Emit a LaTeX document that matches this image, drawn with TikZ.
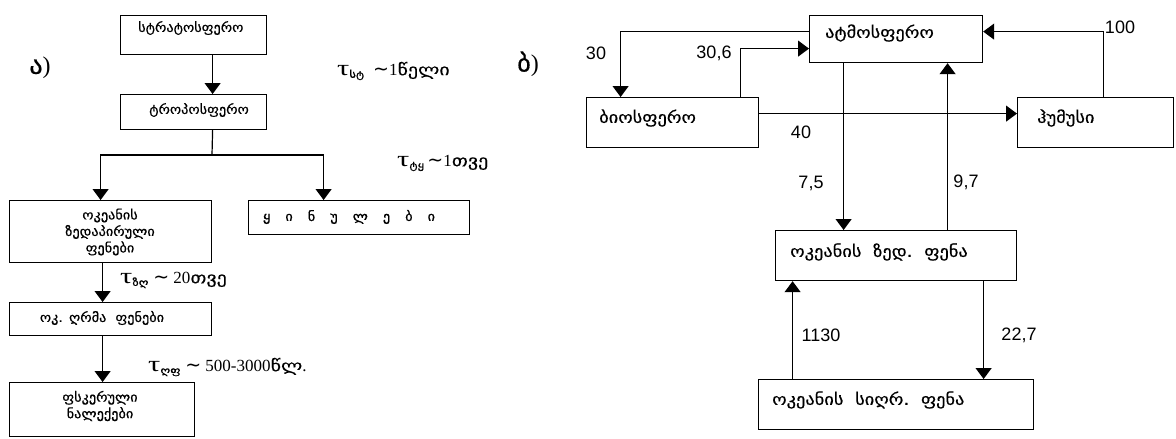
\documentclass[tikz,border=0pt]{standalone}
\usepackage{fontspec}
\setmainfont{Liberation Serif}
\newfontfamily\geo[FakeStretch=1.1,FakeBold=0.6]{DejaVu Sans}
\newfontfamily\geow[FakeStretch=1.15,FakeBold=0.5]{DejaVu Sans}
\newfontfamily\geot[FakeStretch=1.25,FakeBold=0.25]{DejaVu Sans}
\newfontfamily\dvs{DejaVu Sans}
\newfontfamily\arialf{Liberation Sans}
\usetikzlibrary{arrows.meta}
\begin{document}
\begin{tikzpicture}[x=1pt,y=-1pt,
  box/.style={draw,line width=1.2pt,rectangle,inner sep=0pt,anchor=north west},
  gl/.style={font=\geo\fontsize{13}{16.5}\selectfont, inner sep=0pt, align=center},
  gr/.style={font=\geow\fontsize{16}{18}\selectfont, inner sep=0pt, anchor=west},
  num/.style={font=\arialf\fontsize{18}{20}\selectfont, inner sep=0pt},
  tau/.style={font=\fontsize{17}{18}\selectfont, inner sep=0pt, anchor=west},
  big/.style={font=\fontsize{24}{26}\selectfont, inner sep=0pt},
  arr/.style={line width=1.2pt,-{Triangle[length=11pt,width=16pt]}},
  ln/.style={line width=1.2pt}]
\useasboundingbox (0,0) rectangle (1176,439);
\fill[white] (0,0) rectangle (1176,439);
\newcommand\tauch{\scalebox{1.45}[1.05]{\fontsize{21}{21}\selectfont τ}}
\newcommand\gsub[1]{\textsubscript{\geot\fontsize{10}{10}\selectfont #1}}
\newcommand\gword[1]{{\geot\fontsize{16}{16}\selectfont #1}}
\newcommand\tild{{\dvs\fontsize{19}{19}\selectfont ∼}}

% ---------- left diagram ----------
\node[big] (la) at (40,68) {{\geo ა})};
\node[box,minimum width=146pt,minimum height=39pt] (strat) at (120,15) {};
\node[gl,anchor=west] (tstrat) at (138,28) {სტრატოსფერო};
\node[box,minimum width=146pt,minimum height=35pt] (trop) at (120,94) {};
\node[gl,anchor=west] (ttrop) at (149,110) {ტროპოსფერო};
\node[box,minimum width=202pt,minimum height=62pt] (surf) at (9,200) {};
\node[gl] (tsurf) at (110,232) {ოკეანის\\ზედაპირული\\ფენები};
\node[box,minimum width=221pt,minimum height=34pt] (ice) at (248,200) {};
\node[gl] (tice) at (349,217) {ყ\hspace{15pt}ი\hspace{15pt}ნ\hspace{15pt}უ\hspace{15pt}ლ\hspace{15pt}ე\hspace{15pt}ბ\hspace{15pt}ი};
\node[box,minimum width=202pt,minimum height=33pt] (deep) at (9,302) {};
\node[gl] (tdeep) at (102,318) {ოკ. ღრმა\ \ ფენები};
\node[box,minimum width=185pt,minimum height=54pt] (bott) at (9,382) {};
\node[gl] (tbott) at (100,406) {ფსკერული\\ნალექები};

\draw[arr] ([xshift=19pt]strat.south) -- ([xshift=19pt]trop.north);
\coordinate (split) at (212,155);
\draw[ln] ([xshift=19pt]trop.south) -- (split);
\draw[arr] (split) -| ([xshift=-10pt]surf.north);
\draw[arr] (split) -| ([xshift=-35.5pt]ice.north);
\draw[arr] ([xshift=-8pt]surf.south) -- ([xshift=-8pt]deep.north);
\draw[arr] ([xshift=-8pt]deep.south) -- ([xshift=0.5pt]bott.north);

\node[tau] (tau1) at (337,71) {\tauch\gsub{სტ}\ \ \tild1\gword{წელი}};
\node[tau] (tau2) at (397,163) {\tauch\gsub{ტყ}\,\tild1\gword{თვე}};
\node[tau] (tau3) at (120,280) {\tauch\gsub{ზღ} \tild{} 20\gword{თვე}};
\node[tau] (tau4) at (148,367) {\tauch\gsub{ღფ} \tild{} 500-3000\gword{წლ}.};

% ---------- right diagram ----------
\node[big] (lb) at (528,64) {{\geo ბ})};
\node[box,minimum width=173pt,minimum height=47pt] (atm) at (809,15) {};
\node[gr] (tatm) at (825,33) {ატმოსფერო};
\node[box,minimum width=172pt,minimum height=50pt] (bio) at (586,97) {};
\node[gr] (tbio) at (599,118) {ბიოსფერო};
\node[box,minimum width=156pt,minimum height=50pt] (hum) at (1017,97) {};
\node[gr] (thum) at (1037,118) {ჰუმუსი};
\node[box,minimum width=241pt,minimum height=50pt] (osurf) at (775,230) {};
\node[gr] (tosurf) at (790,252) {ოკეანის\ \ ზედ.\ \ ფენა};
\node[box,minimum width=275pt,minimum height=50pt] (odeep) at (758,379) {};
\node[gr] (todeep) at (772,400) {ოკეანის\ \ სიღრ.\ \ ფენა};

\draw[arr] ([yshift=7.5pt]atm.west) -| ([xshift=-52pt]bio.north);
\draw[arr] ([xshift=68pt]bio.north) |- ([yshift=-9.5pt]atm.west);
\draw[arr] ([yshift=9pt]bio.east) -- ([yshift=9pt]hum.west);
\draw[arr] ([xshift=8pt]hum.north) |- ([yshift=7.5pt]atm.east);
\draw[arr] ([xshift=-52.5pt]atm.south) -- ([xshift=-52.5pt]osurf.north);
\draw[arr] ([xshift=51.5pt]osurf.north) -- ([xshift=51.5pt]atm.south);
\draw[arr] ([xshift=-103.5pt]odeep.north) -- ([xshift=-103.5pt]osurf.south);
\draw[arr] ([xshift=87.5pt]osurf.south) -- ([xshift=87.5pt]odeep.north);

\node[num] (n30) at (596,53) {30};
\node[num] (n306) at (714,53) {30,6};
\node[num] (n40) at (801,132) {40};
\node[num] (n100) at (1120,27) {100};
\node[num] (n75) at (811,183) {7,5};
\node[num] (n97) at (966,182) {9,7};
\node[num] (n1130) at (821,335) {1130};
\node[num] (n227) at (1019,335) {22,7};
\end{tikzpicture}
\end{document}
